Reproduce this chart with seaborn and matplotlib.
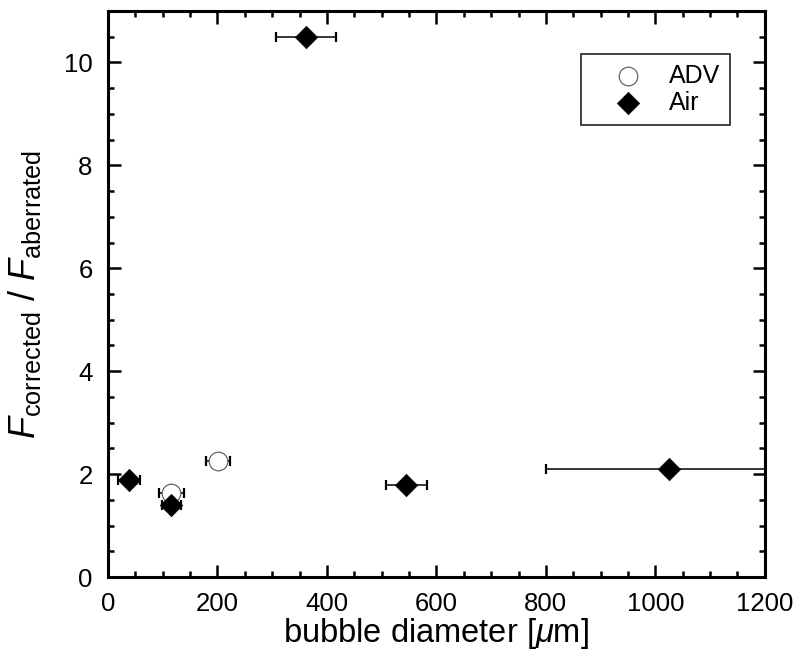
import matplotlib
matplotlib.use("Agg")
import matplotlib.pyplot as plt
import seaborn as sns
import pandas as pd
from matplotlib.ticker import MultipleLocator

# ADV bubbles
adv_x = [116, 201]
adv_xerr = [23, 22]
adv_y = [1.63, 2.26]

# Air bubbles
air_x = [38, 116, 362, 545, 1025]
air_xerr = [20, 18, 55, 37, 225]
air_y = [1.88, 1.40, 10.5, 1.78, 2.10]

sns.set_theme(style="ticks")
plt.rcParams["font.family"] = ["Liberation Sans", "DejaVu Sans"]
plt.rcParams["mathtext.fontset"] = "custom"
plt.rcParams["mathtext.rm"] = "Liberation Sans"
plt.rcParams["mathtext.it"] = "Liberation Sans:italic"
for k in ["text.color", "axes.labelcolor", "xtick.color", "ytick.color", "axes.edgecolor"]:
    plt.rcParams[k] = "black"

adv = pd.DataFrame({"d": adv_x, "ratio": adv_y, "err": adv_xerr})
air = pd.DataFrame({"d": air_x, "ratio": air_y, "err": air_xerr})

fig = plt.figure(figsize=(8, 6.54), dpi=100)
ax = fig.add_axes([0.135, 0.1177, 0.821, 0.8655])

ebkw = dict(fmt="none", ecolor="black", elinewidth=1.1, capsize=3.5, capthick=1.6, zorder=2)
ax.errorbar(adv["d"], adv["ratio"], xerr=adv["err"], **ebkw)
ax.errorbar(air["d"], air["ratio"], xerr=air["err"], **ebkw)

sns.scatterplot(data=adv, x="d", y="ratio", ax=ax, marker="o", s=180,
                facecolor="white", edgecolor="#555555", linewidth=0.8, zorder=3,
                label="ADV")
sns.scatterplot(data=air, x="d", y="ratio", ax=ax, marker="D", s=130,
                color="black", edgecolor="black", linewidth=0.5, zorder=4,
                label="Air")

ax.set_xlim(0, 1200)
ax.set_ylim(0, 11)
ax.xaxis.set_major_locator(MultipleLocator(200))
ax.xaxis.set_minor_locator(MultipleLocator(50))
ax.yaxis.set_major_locator(MultipleLocator(2))
ax.yaxis.set_minor_locator(MultipleLocator(0.5))
ax.tick_params(which="both", direction="in", top=True, right=True,
               width=1.8, labelsize=18.5, pad=11)
ax.tick_params(which="major", length=9)
ax.tick_params(which="minor", length=4.5)
for s in ax.spines.values():
    s.set_linewidth(2.2)

ax.set_xlabel(r"bubble diameter [$\mu$m]", fontsize=23.5, labelpad=0)
ax.set_ylabel(r"$F_{\mathrm{corrected}}$ / $F_{\mathrm{aberrated}}$", fontsize=26, labelpad=15)

leg = ax.legend(loc="upper right", bbox_to_anchor=(0.947, 0.924), borderaxespad=0,
                fontsize=18, frameon=True, fancybox=False, handletextpad=0.15,
                borderpad=0.4, labelspacing=0.1, handlelength=2.95, markerscale=1.0)
leg.get_frame().set_edgecolor("black")
leg.get_frame().set_linewidth(1.3)

fig.savefig("out.png", dpi=100)
